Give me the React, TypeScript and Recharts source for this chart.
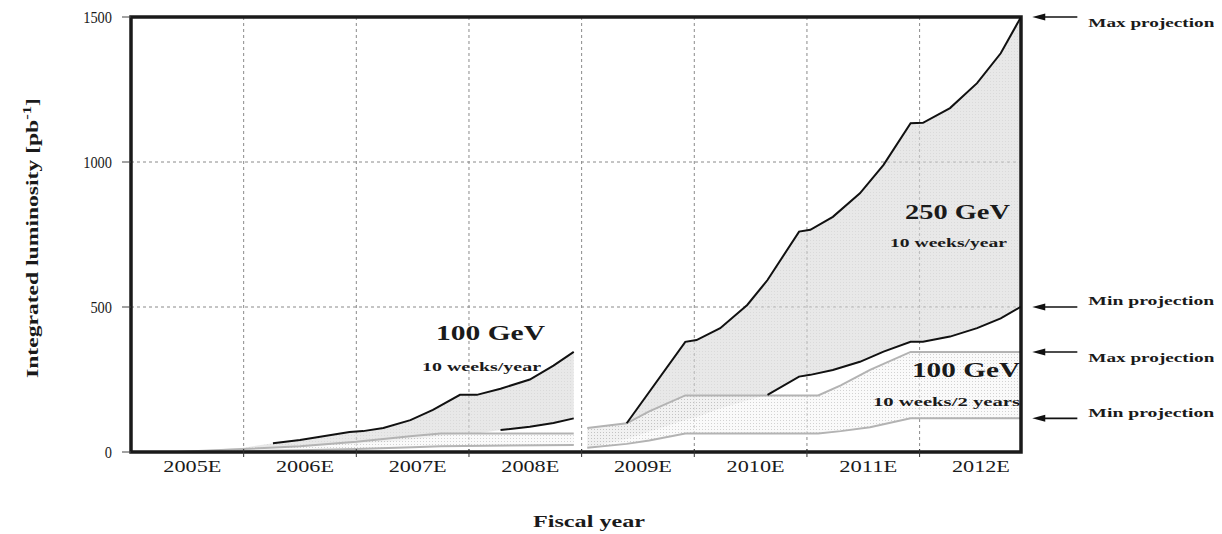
import React from 'react';
import {
  ComposedChart,
  Area,
  Line,
  XAxis,
  YAxis,
  CartesianGrid,
  ReferenceArea,
  ReferenceLine,
} from 'recharts';

// ---- axis data ----
const yearLabels = ['2005E', '2006E', '2007E', '2008E', '2009E', '2010E', '2011E', '2012E'];
const yearCenters = [0.5, 1.5, 2.5, 3.5, 4.5, 5.5, 6.5, 7.5];
const yearBounds = [1, 2, 3, 4, 5, 6, 7];
const yTicks = [0, 500, 1000, 1500];
const xDomainMax = 7.9;

// ---- FY2005-2008 : 100 GeV, 10 weeks/year ----
const xLeft = [0.2, 0.6, 1.0, 1.26, 1.5, 1.94, 2.06, 2.24, 2.48, 2.68, 2.92, 3.07, 3.28, 3.54, 3.75, 3.93];
const max100Year = [0, 5, 15, 30, 41, 69, 72, 83, 110, 145, 197, 197, 218, 250, 298, 345];
const min100Year = [0, 3, 8, 14, 18, 28, 30, 34, 42, 52, 62, 64, 76, 87, 100, 116];

// ---- FY2005-2008 : 100 GeV, 10 weeks/2 years ----
const xLeft2y = [0.4, 1.0, 1.5, 2.0, 2.5, 2.75, 3.93];
const max100TwoYearLeft = [0, 10, 20, 35, 55, 64, 64];
const min100TwoYearLeft = [0, 3, 6, 10, 16, 20, 24];

// ---- FY2009-2012 : 250 GeV, 10 weeks/year ----
const xRight = [4.05, 4.4, 4.92, 5.02, 5.23, 5.47, 5.65, 5.93, 6.03, 6.23, 6.47, 6.68, 6.92, 7.03, 7.27, 7.51, 7.72, 7.9];
const max250 = [83, 99, 380, 386, 427, 507, 593, 760, 766, 811, 892, 990, 1134, 1135, 1186, 1272, 1375, 1500];
const min250 = [15, 45, 110, 120, 150, 178, 197, 260, 266, 283, 311, 346, 380, 380, 398, 427, 461, 501];

// ---- FY2009-2012 : 100 GeV, 10 weeks/2 years ----
const xRight2y = [4.05, 4.4, 4.6, 4.92, 6.1, 6.3, 6.56, 6.92, 7.9];
const max100TwoYearRight = [83, 99, 140, 195, 195, 230, 283, 345, 345];
const min100TwoYearRight = [15, 28, 40, 64, 64, 72, 85, 116, 116];

// ---- projection markers on the right ----
const projectionValues = [1500, 500, 345, 116];
const projectionTexts = ['Max projection', 'Min projection', 'Max projection', 'Min projection'];

const FONT = "'Liberation Serif', 'Times New Roman', 'DejaVu Serif', serif";

const CHART_W = 1214;
const CHART_H = 526;
const MARGIN = { top: 9, right: 201, bottom: 52, left: 63 };
const Y_AXIS_W = 60;
const PLOT_W = CHART_W - MARGIN.left - MARGIN.right - Y_AXIS_W;
const YEAR_PX = PLOT_W / xDomainMax;

const band = (xs: number[], lo: number[], hi: number[]) =>
  xs.map((x, i) => ({ x, range: [lo[i], hi[i]] }));
const series = (xs: number[], ys: number[]) => xs.map((x, i) => ({ x, y: ys[i] }));

const leftBand = band(xLeft, min100Year, max100Year);
const leftTwoYearBand = band(xLeft2y, min100TwoYearLeft, max100TwoYearLeft);
const rightBand = band(xRight, min250, max250);
const rightTwoYearBand = band(xRight2y, min100TwoYearRight, max100TwoYearRight);

const leftMaxLine = series(xLeft, max100Year).slice(3);
const leftMinLine = series(xLeft, min100Year).slice(12);
const rightMaxLine = series(xRight, max250).slice(1);
const rightMinLine = series(xRight, min250).slice(6);

const XTick = (props: any) => {
  const { x, y, payload } = props;
  const idx = yearCenters.indexOf(payload.value);
  const bx = x + YEAR_PX / 2;
  return (
    <g>
      {idx < yearBounds.length && (
        <line x1={bx} y1={y - 3} x2={bx} y2={y + 5} stroke="#333" strokeWidth={1} />
      )}
      <text
        x={x + 5}
        y={y + 20}
        textAnchor="middle"
        fontFamily={FONT}
        fontSize={17}
        fill="#1a1a1a"
        textLength={58}
        lengthAdjust="spacingAndGlyphs"
      >
        {yearLabels[idx]}
      </text>
    </g>
  );
};

const YTick = (props: any) => {
  const { x, y, payload } = props;
  const s = String(payload.value);
  return (
    <g>
      <line x1={x + 10} y1={y} x2={x + 19} y2={y} stroke="#444" strokeWidth={1} />
      <text
        x={x}
        y={y}
        dy="0.35em"
        textAnchor="end"
        fontFamily={FONT}
        fontSize={16}
        fill="#1a1a1a"
        textLength={s.length * 7.2}
        lengthAdjust="spacingAndGlyphs"
      >
        {s}
      </text>
    </g>
  );
};

const textOffsets = [5, -7, 5, -6];

const makeArrow = (i: number) => (p: any) => {
  const { x1, y1, x2 } = p;
  const xa = Math.min(x1, x2);
  const xb = Math.max(x1, x2);
  const y = y1;
  return (
    <g>
      <line x1={xa + 8} y1={y} x2={xb} y2={y} stroke="#111" strokeWidth={1.6} />
      <polygon points={`${xa},${y} ${xa + 13},${y - 3.5} ${xa + 13},${y + 3.5}`} fill="#111" />
      <text
        x={xb + 11}
        y={y + textOffsets[i]}
        dy="0.35em"
        fontFamily={FONT}
        fontSize={13}
        fontWeight="bold"
        fill="#1a1a1a"
        textLength={126}
        lengthAdjust="spacingAndGlyphs"
      >
        {projectionTexts[i]}
      </text>
    </g>
  );
};

export default function App() {
  return (
    <div style={{ position: 'relative', width: CHART_W, height: CHART_H }}>
      <ComposedChart width={CHART_W} height={CHART_H} margin={MARGIN}>
        <defs>
          <pattern id="greyDots" width="3" height="3" patternUnits="userSpaceOnUse">
            <rect width="3" height="3" fill="#d9d9d9" />
            <rect x="1" y="1" width="1" height="1" fill="#c2c2c2" />
          </pattern>
          <pattern id="whiteDots" width="3" height="3" patternUnits="userSpaceOnUse">
            <rect width="3" height="3" fill="#f7f7f7" />
            <rect x="1" y="1" width="1" height="1" fill="#b4b4b4" />
          </pattern>
        </defs>
        <CartesianGrid
          stroke="#8a8a8a"
          strokeDasharray="3 3"
          horizontalValues={yTicks}
          verticalValues={yearBounds}
        />
        <XAxis
          type="number"
          dataKey="x"
          domain={[0, xDomainMax]}
          allowDataOverflow
          ticks={yearCenters}
          tick={<XTick />}
          tickLine={false}
          tickSize={0}
          tickMargin={0}
          axisLine={false}
          height={30}
        />
        <YAxis
          type="number"
          domain={[0, 1500]}
          allowDataOverflow
          ticks={yTicks}
          tick={<YTick />}
          tickSize={8}
          tickMargin={11}
          tickLine={false}
          axisLine={false}
          width={Y_AXIS_W}
        />

        <Area data={leftBand} dataKey="range" type="linear" fill="url(#greyDots)" stroke="none" isAnimationActive={false} dot={false} activeDot={false} />
        <Area data={rightBand} dataKey="range" type="linear" fill="url(#greyDots)" stroke="none" isAnimationActive={false} dot={false} activeDot={false} />

        <Area data={leftTwoYearBand} dataKey="range" type="linear" fill="url(#whiteDots)" stroke="#b3b3b3" strokeWidth={2} isAnimationActive={false} dot={false} activeDot={false} />
        <Area data={rightTwoYearBand} dataKey="range" type="linear" fill="url(#whiteDots)" stroke="#b3b3b3" strokeWidth={2} isAnimationActive={false} dot={false} activeDot={false} />

        <Line data={leftMaxLine} dataKey="y" type="linear" stroke="#111" strokeWidth={2} dot={false} activeDot={false} isAnimationActive={false} />
        <Line data={leftMinLine} dataKey="y" type="linear" stroke="#111" strokeWidth={2} dot={false} activeDot={false} isAnimationActive={false} />
        <Line data={rightMaxLine} dataKey="y" type="linear" stroke="#111" strokeWidth={2} dot={false} activeDot={false} isAnimationActive={false} />
        <Line data={rightMinLine} dataKey="y" type="linear" stroke="#111" strokeWidth={2} dot={false} activeDot={false} isAnimationActive={false} />

        <ReferenceArea x1={0} x2={xDomainMax} y1={0} y2={1500} fill="none" stroke="#1a1a1a" strokeWidth={3.5} ifOverflow="visible" />

        {projectionValues.map((v, i) => (
          <ReferenceLine
            key={i}
            segment={[{ x: 8.0, y: v }, { x: 8.4, y: v }]}
            ifOverflow="visible"
            stroke="#111"
            shape={makeArrow(i)}
          />
        ))}
      </ComposedChart>

      <svg
        width={CHART_W}
        height={CHART_H}
        style={{ position: 'absolute', left: 0, top: 0, pointerEvents: 'none' }}
        fontFamily={FONT}
        fill="#1a1a1a"
      >
        <text x={482.5} y={332} textAnchor="middle" fontSize={21} fontWeight="bold" textLength={109} lengthAdjust="spacingAndGlyphs">100 GeV</text>
        <text x={473.5} y={363} textAnchor="middle" fontSize={13} fontWeight="bold" textLength={119} lengthAdjust="spacingAndGlyphs">10 weeks/year</text>
        <text x={949.5} y={211} textAnchor="middle" fontSize={22} fontWeight="bold" textLength={105} lengthAdjust="spacingAndGlyphs">250 GeV</text>
        <text x={940.5} y={239} textAnchor="middle" fontSize={13} fontWeight="bold" textLength={117} lengthAdjust="spacingAndGlyphs">10 weeks/year</text>
        <text x={958} y={369} textAnchor="middle" fontSize={21} fontWeight="bold" textLength={108} lengthAdjust="spacingAndGlyphs">100 GeV</text>
        <text x={938.5} y={398} textAnchor="middle" fontSize={13} fontWeight="bold" textLength={147} lengthAdjust="spacingAndGlyphs">10 weeks/2 years</text>
        <text x={581} y={519} textAnchor="middle" fontSize={17} fontWeight="bold" textLength={112} lengthAdjust="spacingAndGlyphs">Fiscal year</text>
        <text
          x={30}
          y={230}
          textAnchor="middle"
          fontSize={17}
          fontWeight="bold"
          transform="rotate(-90 30 230)"
          textLength={280}
          lengthAdjust="spacingAndGlyphs"
        >
          Integrated luminosity [pb<tspan dy={-7} fontSize={12}>-1</tspan><tspan dy={7}>]</tspan>
        </text>
      </svg>
    </div>
  );
}
